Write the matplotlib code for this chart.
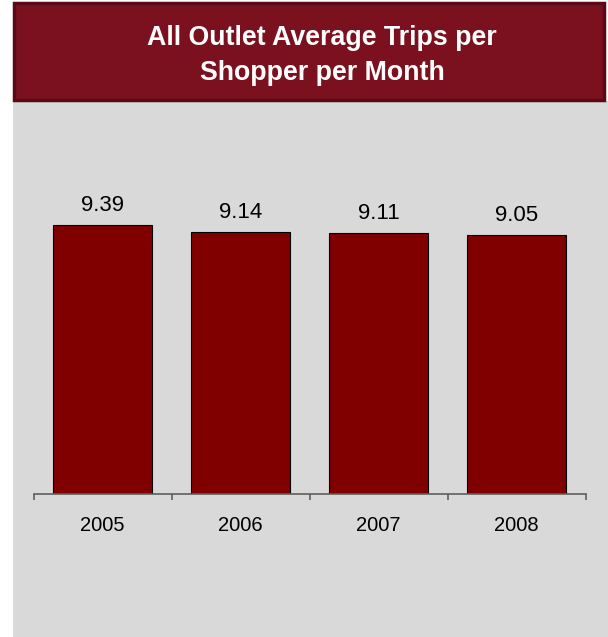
import matplotlib
matplotlib.use("Agg")
import matplotlib.pyplot as plt
from matplotlib.patches import Rectangle

years = ["2005", "2006", "2007", "2008"]
trips = [9.39, 9.14, 9.11, 9.05]
title = "All Outlet Average Trips per\nShopper per Month"

W, H, DPI = 608, 637, 100
fig = plt.figure(figsize=(W / DPI, H / DPI), dpi=DPI)
fig.patch.set_facecolor("white")

# gray panel
fig.patches.append(Rectangle((12.5 / W, 0), 1 - 12.5 / W, (H - 100.5) / H,
                             transform=fig.transFigure, facecolor="#D9D9D9",
                             edgecolor="none", zorder=0))
# title box
fig.patches.append(Rectangle((13.5 / W, (H - 100) / H), (604 - 13.5) / W, 97 / H,
                             transform=fig.transFigure, facecolor="#7B111E",
                             edgecolor="#5A0A14", linewidth=2.5, zorder=1))
fig.text(0.53, (H - 55.5) / H, title, ha="center", va="center", color="white",
         fontsize=19.3, fontweight="bold", family="Liberation Sans",
         linespacing=1.45, zorder=3)

left, right = 33.5 / W, 585.5 / W
bottom = (H - 494) / H
top_px = 140
ax = fig.add_axes([left, bottom, right - left, (494 - top_px) / H])
ax.set_zorder(5)
ax.set_facecolor("none")
scale = 28.65
ax.set_ylim(0, (494 - top_px) / scale)
x = list(range(len(years)))
bars = ax.bar(x, trips, width=0.717, color="#800000", edgecolor="black",
              linewidth=0.8)
ax.set_xlim(-0.5, len(years) - 0.5)
for xi, v in zip(x, trips):
    ax.annotate(f"{v:.2f}", (xi, v), xytext=(0, 6.5), textcoords="offset points",
                ha="center", va="bottom", fontsize=16,
                family="Liberation Sans", color="black")

for s in ["top", "right", "left"]:
    ax.spines[s].set_visible(False)
ax.spines["bottom"].set_color("#5F5F5F")
ax.spines["bottom"].set_linewidth(1.2)
ax.set_yticks([])
ax.set_xticks([-0.5, 0.5, 1.5, 2.5, 3.5])
ax.set_xticklabels([])
ax.tick_params(axis="x", which="major", length=4.5, width=1.2, color="#5F5F5F",
               direction="out")
ax.set_xticks(x, minor=True)
ax.set_xticklabels(years, minor=True, fontsize=14.5, family="Liberation Sans")
ax.tick_params(axis="x", which="minor", length=0, pad=15.5)

fig.savefig("out.png", dpi=DPI)
